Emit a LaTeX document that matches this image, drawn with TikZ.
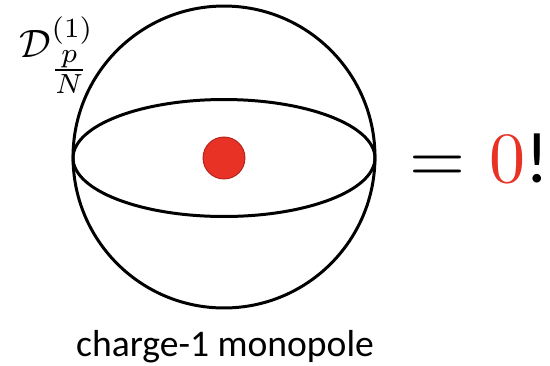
\documentclass[tikz,border=0pt]{standalone}
\usepackage{amsmath, amssymb}
\usepackage{fontspec}
\usepackage{xcolor}
\usepackage{graphicx}
\usepackage{tikz}
\usetikzlibrary{shapes.geometric, positioning}
\newfontfamily\capfont{Carlito}
\definecolor{chargeRed}{RGB}{232, 50, 38}
\definecolor{chargeEdge}{RGB}{180, 28, 22}
\tikzset{
  shell/.style={
    circle, draw=black, line width=1.7pt,
    minimum size=6.04cm, inner sep=0pt
  },
  equator/.style={
    ellipse, draw=black, line width=1.7pt,
    minimum width=6.04cm, minimum height=2.34cm, inner sep=0pt
  },
  charge/.style={
    circle, draw=chargeEdge, fill=chargeRed, line width=0.5pt,
    minimum size=0.84cm, inner sep=0pt
  },
  caption/.style={
    font=\capfont\fontsize{21.4}{25}\selectfont, inner sep=0pt
  }
}

\begin{document}
\begin{tikzpicture}[x=0.02cm, y=-0.02cm]
  \useasboundingbox[fill=white] (0,0) rectangle (550,365);

  % sphere with its equator and the charge in the middle
  \node[shell] (sphere) at (224,157) {};
  \node[equator] (eq) at (224,158) {};
  \node[charge] (mono) at (224,158) {};

  % operator label, top left
  \node[inner sep=0pt] (dop) at (57,55)
    {\scalebox{2.25}{$\mathcal{D}^{(1)}_{\genfrac{}{}{}{1}{p}{N}}$}};

  % result on the right
  \node[anchor=base west, inner sep=0pt] (res) at (409,182)
    {\scalebox{4.1}{$=$ \textcolor{chargeRed}{0}{\capfont !}}};

  % caption below
  \node[caption, anchor=base] (cap) at (225,356) {charge-1 monopole};
\end{tikzpicture}
\end{document}
